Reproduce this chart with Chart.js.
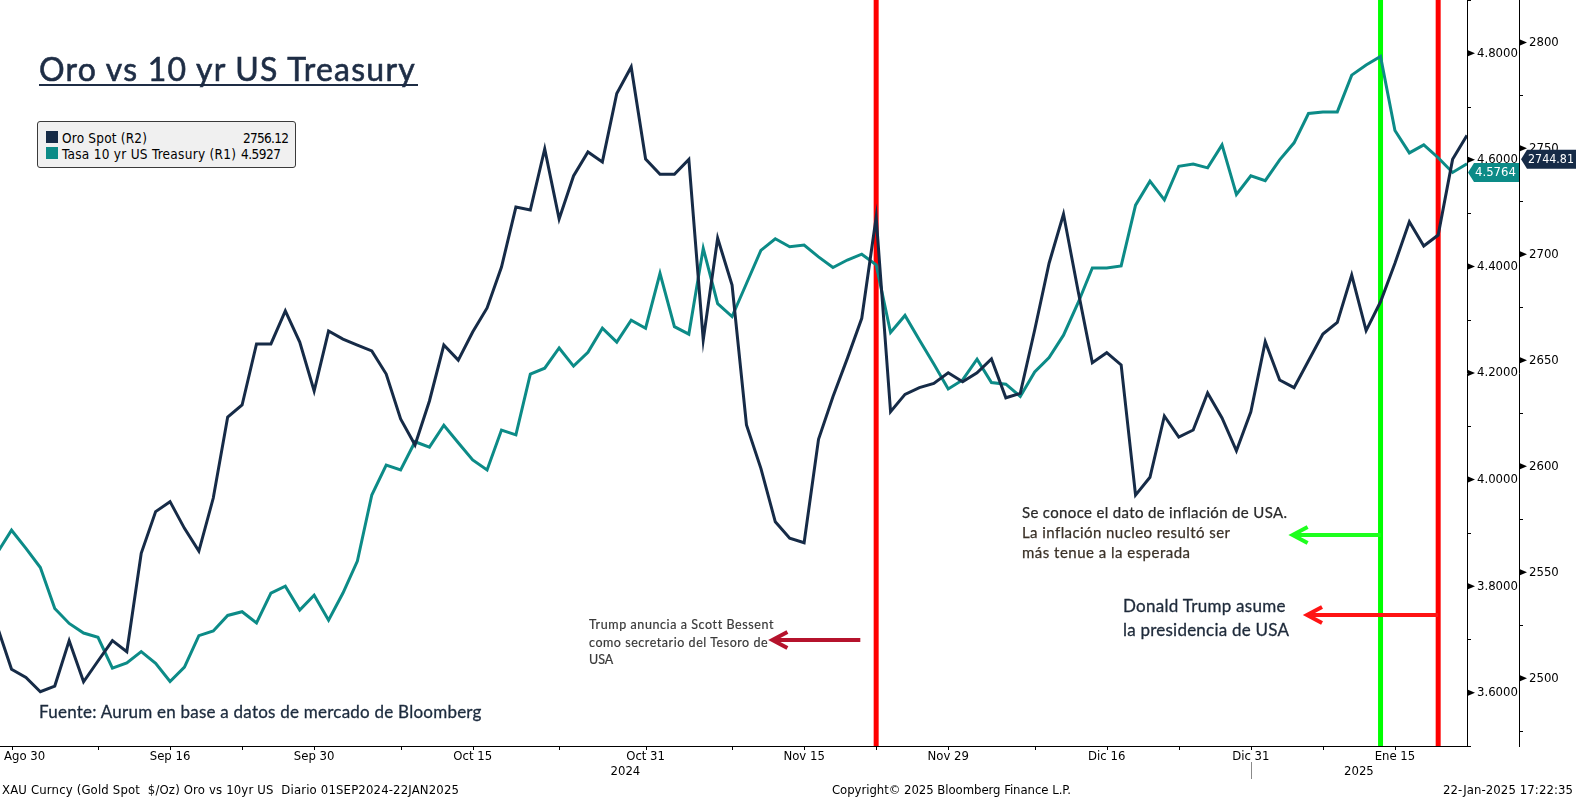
<!DOCTYPE html>
<html><head><meta charset="utf-8">
<script src="https://cdn.jsdelivr.net/npm/chart.js@4.4.1/dist/chart.umd.min.js"></script>
<style>
html,body{margin:0;padding:0;background:#fff;}
#wrap{position:relative;width:1576px;height:798px;overflow:hidden;background:#fff;}
#c{position:absolute;left:0;top:0;}
.t{position:absolute;white-space:pre;margin:0;padding:0;}
#legend{position:absolute;left:37px;top:121px;width:257px;height:45px;background:#f0f0f0;border:1px solid #3a3a3a;border-radius:3px;}
.sw{position:absolute;width:12px;height:12px;}
#uline{position:absolute;left:39px;top:84px;width:379px;height:2px;background:#1e2d45;}
</style></head><body>
<div id="wrap"><canvas id="c" width="1576" height="798"></canvas>
<div id="legend"></div><div id="uline"></div>
<div class="sw" style="left:46px;top:131px;background:#162b47"></div>
<div class="sw" style="left:46px;top:147px;background:#0c8b87"></div>
</div>
<script>
// ---------- DATA ----------
const dates = [
 '2024-08-29','2024-08-30',
 '2024-09-02','2024-09-03','2024-09-04','2024-09-05','2024-09-06','2024-09-09','2024-09-10','2024-09-11','2024-09-12','2024-09-13',
 '2024-09-16','2024-09-17','2024-09-18','2024-09-19','2024-09-20','2024-09-23','2024-09-24','2024-09-25','2024-09-26','2024-09-27','2024-09-30',
 '2024-10-01','2024-10-02','2024-10-03','2024-10-04','2024-10-07','2024-10-08','2024-10-09','2024-10-10','2024-10-11','2024-10-14','2024-10-15',
 '2024-10-16','2024-10-17','2024-10-18','2024-10-21','2024-10-22','2024-10-23','2024-10-24','2024-10-25','2024-10-28','2024-10-29','2024-10-30','2024-10-31',
 '2024-11-01','2024-11-04','2024-11-05','2024-11-06','2024-11-07','2024-11-08','2024-11-11','2024-11-12','2024-11-13','2024-11-14','2024-11-15',
 '2024-11-18','2024-11-19','2024-11-20','2024-11-21','2024-11-22','2024-11-25','2024-11-26','2024-11-27','2024-11-28','2024-11-29',
 '2024-12-02','2024-12-03','2024-12-04','2024-12-05','2024-12-06','2024-12-09','2024-12-10','2024-12-11','2024-12-12','2024-12-13',
 '2024-12-16','2024-12-17','2024-12-18','2024-12-19','2024-12-20','2024-12-23','2024-12-24','2024-12-26','2024-12-27','2024-12-30','2024-12-31',
 '2025-01-02','2025-01-03','2025-01-06','2025-01-07','2025-01-08','2025-01-09','2025-01-10','2025-01-13','2025-01-14','2025-01-15',
 '2025-01-16','2025-01-17','2025-01-20','2025-01-21','2025-01-22'
];
const goldSpot = [
 2524.6,2504.2,2500.4,2493.6,2496.3,2517.7,2498.3,2508.1,2517.7,2512.5,
 2558.9,2578.6,2583.3,2570.7,2560.0,2585.0,2623.2,2628.9,2657.7,2657.7,
 2673.3,2658.6,2635.5,2663.8,2660.0,2657.2,2654.4,2643.5,2622.3,2610.0,
 2630.8,2657.2,2650.1,2663.3,2674.7,2694.0,2722.3,2720.9,2749.7,2716.7,
 2737.0,2748.3,2743.6,2775.9,2788.4,2745.0,2737.8,2737.8,2744.8,2659.6,
 2707.6,2685.5,2619.5,2599.0,2573.8,2566.0,2563.9,2612.7,2632.8,2650.9,
 2669.8,2717.5,2625.7,2633.9,2637.1,2639.1,2644.1,2639.9,2644.1,2650.6,
 2632.3,2634.4,2664.3,2695.8,2719.0,2683.2,2648.9,2653.6,2647.8,2586.4,
 2594.8,2623.7,2613.8,2617.1,2634.6,2622.8,2607.3,2625.7,2658.8,2640.7,
 2637.1,2649.8,2662.4,2667.9,2690.2,2664.0,2677.6,2695.8,2715.4,2703.9,
 2709.1,2744.81,2756.12
];
const ust10y = [
 3.862,3.905,3.871,3.835,3.758,3.730,3.712,3.704,3.646,3.656,
 3.677,3.655,3.621,3.648,3.707,3.716,3.745,3.752,3.731,3.787,
 3.800,3.755,3.783,3.736,3.787,3.847,3.971,4.027,4.018,4.071,
 4.061,4.102,4.069,4.037,4.018,4.093,4.084,4.198,4.209,4.247,
 4.213,4.239,4.284,4.258,4.299,4.284,4.387,4.287,4.273,4.434,
 4.330,4.306,4.368,4.430,4.452,4.437,4.440,4.418,4.398,4.412,
 4.423,4.403,4.276,4.308,4.262,4.217,4.170,4.187,4.226,4.182,
 4.179,4.156,4.202,4.229,4.271,4.331,4.397,4.397,4.401,4.515,
 4.560,4.525,4.588,4.592,4.585,4.628,4.535,4.570,4.561,4.600,
 4.632,4.687,4.690,4.690,4.759,4.778,4.794,4.655,4.613,4.628,
 4.604,4.5764,4.5927
];
const xMajorIdx = [1,12,22,33,45,56,66,77,87,97];
const xMajorLabels = ['Ago 30','Sep 16','Sep 30','Oct 15','Oct 31','Nov 15','Nov 29','Dic 16','Dic 31','Ene 15'];
const xMinorIdx = [7,17,28,39,51,61,72,82,92];
const yearBreakIdx = 87;
const yearLabels = ['2024','2025'];
const yieldTicks = [3.6,3.8,4.0,4.2,4.4,4.6,4.8];
const yieldMinor = [3.5,3.7,3.9,4.1,4.3,4.5,4.7,4.9];
const goldTicks = [2500,2550,2600,2650,2700,2750,2800];
const goldMinor = [2475,2525,2575,2625,2675,2725,2775];
const eventIdx = [61,96,100];
const eventColors = ['#ff0000','#00ff00','#ff0000'];
const arrowFrom = [59.9,96,100];
const arrowTo = [53.8,89.9,90.9];
const arrowLevel = [3.699,3.896,3.746];
const arrowColors = ['#b5132c','#1eff1e','#ff1414'];
const tagYield = 4.5764, tagGold = 2744.81;

const GOLD = '#162b47', TEAL = '#0c8b87';
const AXF = "'DejaVu Sans Condensed','DejaVu Sans',sans-serif";
const TXF = "'Lato',sans-serif";

// ---------- overlay plugin ----------
const overlay = {
 id:'overlay',
 beforeDatasetsDraw(chart){
  const {ctx, chartArea:a, scales:{x}} = chart;
  ctx.save();
  eventIdx.forEach((v,k)=>{
   const px = x.getPixelForValue(v);
   ctx.strokeStyle = eventColors[k]; ctx.lineWidth = 5;
   ctx.beginPath(); ctx.moveTo(px,a.top); ctx.lineTo(px,a.bottom); ctx.stroke();
  });
  ctx.restore();
 },
 afterDraw(chart){
  const {ctx, chartArea:a, scales:{x, yR, yG}} = chart;
  ctx.save();
  ctx.strokeStyle='#000'; ctx.fillStyle='#000'; ctx.lineWidth=1;
  ctx.beginPath(); ctx.moveTo(a.left, a.bottom+0.5); ctx.lineTo(a.right+1, a.bottom+0.5); ctx.stroke();
  [...xMajorIdx, ...xMinorIdx].forEach(i=>{
   const px = Math.round(x.getPixelForValue(i))+0.5;
   ctx.beginPath(); ctx.moveTo(px,a.bottom); ctx.lineTo(px,a.bottom+4); ctx.stroke();
  });
  ctx.font = '13px '+AXF; ctx.textBaseline='middle'; ctx.textAlign='left';
  xMajorIdx.forEach((i,k)=>{
   const lbl = xMajorLabels[k]; const w = ctx.measureText(lbl).width;
   let lx = x.getPixelForValue(i) - w/2; lx = Math.max(lx, 4);
   ctx.fillText(lbl, lx, 757);
  });
  const sep = x.getPixelForValue(yearBreakIdx);
  ctx.textAlign='center';
  ctx.fillText(yearLabels[0], (a.left+sep)/2, 772);
  ctx.fillText(yearLabels[1], (sep+a.right)/2, 772);
  ctx.strokeStyle='#8a8a8a';
  ctx.beginPath(); ctx.moveTo(Math.round(sep)+0.5, 762); ctx.lineTo(Math.round(sep)+0.5, 779); ctx.stroke();
  // y-axis markers
  ctx.strokeStyle='#000'; ctx.fillStyle='#000';
  function marks(scale, ticks, minors){
   const x0 = scale.left;
   ticks.forEach(v=>{
    const py = scale.getPixelForValue(v);
    ctx.beginPath(); ctx.moveTo(x0+1,py-3); ctx.lineTo(x0+8,py); ctx.lineTo(x0+1,py+3); ctx.closePath(); ctx.fill();
   });
   minors.forEach(v=>{
    const py = Math.min(Math.round(scale.getPixelForValue(v))+0.5, a.bottom+0.5);
    ctx.beginPath(); ctx.moveTo(x0,py); ctx.lineTo(x0+4,py); ctx.stroke();
   });
  }
  marks(yR, yieldTicks, yieldMinor);
  marks(yG, goldTicks, goldMinor);
  // value tags
  function tag(x0, x1, py, txt, fill){
   ctx.fillStyle = fill;
   ctx.beginPath(); ctx.moveTo(x0,py); ctx.lineTo(x0+6,py-9.5); ctx.lineTo(x1,py-9.5); ctx.lineTo(x1,py+9.5); ctx.lineTo(x0+6,py+9.5); ctx.closePath(); ctx.fill();
   ctx.fillStyle='#fff'; ctx.textAlign='left'; ctx.textBaseline='middle';
   ctx.font = '13px '+AXF;
   ctx.fillText(txt, x0+7, py+0.5, x1-x0-9);
  }
  tag(yR.left+1, yG.left, yR.getPixelForValue(tagYield), tagYield.toFixed(4), TEAL);
  tag(yG.left+2, chart.width, yG.getPixelForValue(tagGold), tagGold.toFixed(2), GOLD);
  // arrows
  arrowFrom.forEach((f,k)=>{
   const y = yR.getPixelForValue(arrowLevel[k]);
   const x0 = x.getPixelForValue(f), x1 = x.getPixelForValue(arrowTo[k]);
   ctx.strokeStyle = arrowColors[k]; ctx.lineWidth = 4; ctx.lineJoin='miter'; ctx.lineCap='butt';
   ctx.beginPath(); ctx.moveTo(x0,y); ctx.lineTo(x1+2,y); ctx.stroke();
   ctx.beginPath(); ctx.moveTo(x1+15,y-8); ctx.lineTo(x1,y); ctx.lineTo(x1+15,y+8); ctx.stroke();
  });
  ctx.restore();
 }
};

const zeroPad = s => { s.paddingTop=0; s.paddingBottom=0; };
new Chart(document.getElementById('c'), {
 type:'line',
 data:{ datasets:[
  {label:'Oro Spot (R2)', data: goldSpot.map((v,i)=>({x:i,y:v})), yAxisID:'yG', borderColor:GOLD, borderWidth:3, pointRadius:0, tension:0, order:0, fill:false},
  {label:'Tasa 10 yr US Treasury (R1)', data: ust10y.map((v,i)=>({x:i,y:v})), yAxisID:'yR', borderColor:TEAL, borderWidth:3, pointRadius:0, tension:0, order:1, fill:false}
 ]},
 options:{
  responsive:false, animation:false, devicePixelRatio:1,
  layout:{padding:{left:0,top:0,right:0,bottom:52}},
  plugins:{legend:{display:false}, tooltip:{enabled:false}},
  scales:{
   x:{type:'linear', min:0.2, max:102, display:false},
   yR:{position:'right', weight:0, min:3.5, max:4.9,
    grid:{display:false, drawTicks:false}, border:{display:true,color:'#000',width:1},
    ticks:{padding:10, color:'#000', font:{family:AXF, size:13}, callback:v=>Number(v).toFixed(4)},
    afterBuildTicks:s=>{s.ticks = yieldTicks.map(v=>({value:v}));},
    afterFit:s=>{s.width=52; zeroPad(s);} },
   yG:{position:'right', weight:1, min:2468, max:2820,
    grid:{display:false, drawTicks:false}, border:{display:true,color:'#000',width:1},
    ticks:{padding:10, color:'#000', font:{family:AXF, size:13}, callback:v=>String(v)},
    afterBuildTicks:s=>{s.ticks = goldTicks.map(v=>({value:v}));},
    afterFit:s=>{s.width=57; zeroPad(s);} }
  }
 },
 plugins:[overlay]
});

// ---------- HTML text ----------
const wrap = document.getElementById('wrap');
const mc = document.createElement('canvas').getContext('2d');
function place(txt, x, base, size, fam, color, w, align, stroke){
 const font = `400 ${size}px ${fam}`;
 mc.font = font;
 const m = mc.measureText(txt);
 const A = m.fontBoundingBoxAscent, D = m.fontBoundingBoxDescent;
 const el = document.createElement('div'); el.className='t'; el.textContent = txt;
 el.style.font = font; el.style.lineHeight = (A+D)+'px'; el.style.color = color;
 if (stroke){ el.style.webkitTextStroke = stroke+'px '+color; }
 let width = m.width;
 if (w && txt.length>1){ let ls=(w-m.width)/(txt.length-1); ls=Math.max(-1.5,Math.min(1.5,ls)); el.style.letterSpacing=ls+'px'; width = m.width + ls*(txt.length-1); }
 const left = align==='right' ? x - width : x;
 el.style.left = left+'px'; el.style.top = (base-A)+'px';
 wrap.appendChild(el);
}
place('Oro vs 10 yr US Treasury', 39, 81, 32, TXF, '#1e2d45', 379, null, 0.6);
place('Oro Spot (R2)', 62, 142.5, 13.5, AXF, '#000', 85);
place('Tasa 10 yr US Treasury (R1)', 62, 158.5, 13.5, AXF, '#000', 174);
place('2756.12', 243, 142.5, 13.5, AXF, '#000', 46);
place('4.5927', 241, 158.5, 13.5, AXF, '#000', 40);
place('Fuente: Aurum en base a datos de mercado de Bloomberg', 39, 718, 17, TXF, '#1c2b3d', 443, null, 0.3);
place('Trump anuncia a Scott Bessent', 589, 629, 12.5, TXF, '#3a3a3a', 184, null, 0.2);
place('como secretario del Tesoro de', 589, 647, 12.5, TXF, '#3a3a3a', 179, null, 0.2);
place('USA', 589, 664, 12.5, TXF, '#3a3a3a', null, null, 0.2);
place('Se conoce el dato de inflación de USA.', 1022, 518, 15, TXF, '#2a2a2a', 265, null, 0.25);
place('La inflación nucleo resultó ser', 1022, 538, 15, TXF, '#3b3228', 208, null, 0.25);
place('más tenue a la esperada', 1022, 558, 15, TXF, '#3b3228', 168, null, 0.25);
place('Donald Trump asume', 1123, 612, 17, TXF, '#1e2a3a', 163, null, 0.3);
place('la presidencia de USA', 1123, 636, 17, TXF, '#1e2a3a', 166, null, 0.3);
place('XAU Curncy (Gold Spot  $/Oz) Oro vs 10yr US  Diario 01SEP2024-22JAN2025', 2, 794, 13, AXF, '#000', 457);
place('Copyright\u00a9 2025 Bloomberg Finance L.P.', 832, 794, 13, AXF, '#000', 239);
place('22-Jan-2025 17:22:35', 1573, 794, 13, AXF, '#000', 130, 'right');
</script></body></html>
